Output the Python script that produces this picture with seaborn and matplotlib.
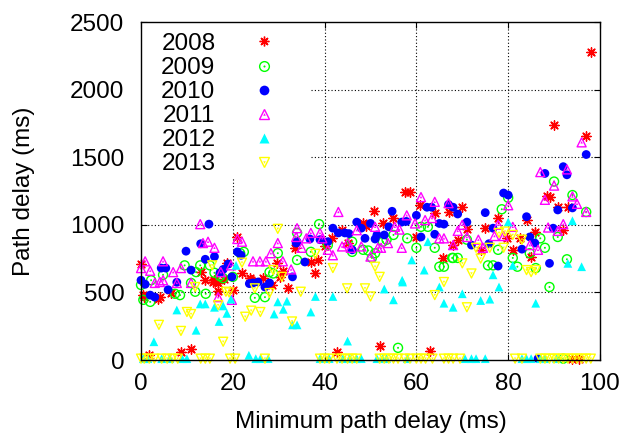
import numpy as np
import pandas as pd
import seaborn as sns
import matplotlib
matplotlib.use("Agg")
import matplotlib.pyplot as plt
from matplotlib.lines import Line2D
from matplotlib.legend_handler import HandlerTuple
from matplotlib.patches import Rectangle

# ---------------- data ----------------
years = ["2008", "2009", "2010", "2011", "2012", "2013"]

x2008 = [0, 0.5, 0.7, 1.7, 3.7, 4.1, 6.5, 8.7, 10.9, 13, 14, 15.7, 16, 16.8, 16.8, 18, 18.8, 20, 21, 22,
         23.7, 24, 26.6, 28.5, 29.6, 30.3, 31, 32, 33.5, 37, 38, 38.6, 40, 41.6, 42.7, 43.8, 45, 48.4, 49,
         50.8, 52, 52.7, 55, 57.5, 58.5, 60, 60.8, 63, 64, 65.8, 67, 68, 69, 70, 71, 74, 75, 77.8, 79.7, 81,
         82.6, 84, 85, 85.8, 88.4, 89.2, 90, 90.8, 92, 93, 94, 95.5, 97, 98]
y2008 = [710, 480, 465, 37, 450, 465, 495, 60, 85, 650, 590, 577, 590, 510, 570, 600, 720, 520, 910, 645,
         605, 590, 605, 555, 720, 615, 660, 530, 830, 725, 645, 740, 840, 900, 62, 960, 865, 1010, 990,
         1100, 100, 1010, 1050, 1240, 1240, 910, 1150, 67, 1085, 755, 1095, 850, 890, 1130, 970, 815, 975,
         1050, 900, 815, 900, 1035, 765, 950, 1210, 1205, 1740, 1135, 960, 1130, 10, 10, 1660, 2280]

x2009 = [0, 0.5, 2, 2.2, 4.8, 7.4, 8.5, 9.5, 10.9, 11.8, 12, 12.9, 14.1, 15, 16, 17.2, 17.9, 20, 21.6, 22.4,
         24.8, 27, 28, 28.8, 29.8, 34, 34, 37, 38.8, 40.7, 46, 46, 48.4, 49.5, 50.3, 51, 52.7, 53.5, 55, 56,
         58, 60, 61, 62.5, 64, 65, 66, 67.8, 68, 69, 71, 75.6, 76.7, 77.8, 78.6, 80, 81, 82, 84.7, 86, 87,
         88, 89, 90, 90.8, 92, 92.8, 94, 97]
y2009 = [555, 445, 430, 590, 630, 490, 480, 700, 570, 505, 650, 700, 490, 700, 645, 620, 605, 615, 790, 800,
         460, 465, 650, 640, 790, 940, 740, 800, 1005, 850, 875, 800, 815, 810, 755, 790, 875, 890, 925, 90,
         900, 830, 985, 985, 830, 690, 690, 755, 755, 755, 890, 700, 700, 815, 1115, 1200, 755, 690, 790,
         680, 900, 830, 540, 1320, 910, 10, 745, 1220, 1095]

x2010 = [0, 0.9, 2, 3, 4.4, 5.4, 5.9, 7.8, 9.8, 10.9, 13, 14, 14.8, 16, 17.2, 17.9, 19, 19.8, 21, 21.8,
         23.6, 24.4, 25.5, 27, 28, 33, 33.8, 34, 35.7, 36.8, 39, 40.7, 41.8, 43, 44.4, 45.3, 46, 47, 48,
         48.8, 50, 51, 51.4, 53, 54, 54.7, 56.8, 57.8, 60, 61, 62.3, 63.3, 64, 65, 66, 67, 68, 69, 71, 72,
         75, 75.8, 76.7, 77.8, 79, 80, 83, 84, 84.7, 85.8, 86.5, 88, 89, 89.8, 90.8, 92, 92.8, 94, 97]
y2010 = [590, 560, 480, 465, 680, 680, 520, 575, 805, 665, 860, 745, 1005, 765, 645, 670, 710, 615, 800, 775,
         565, 570, 577, 540, 570, 615, 865, 875, 725, 895, 890, 875, 975, 940, 940, 935, 815, 1020, 975,
         900, 1010, 895, 925, 925, 985, 1100, 1020, 1025, 1070, 910, 1130, 1130, 930, 1010, 1005, 1150,
         1130, 1080, 1020, 850, 1090, 860, 975, 695, 1235, 1220, 820, 1060, 910, 865, 10, 1380, 715, 975,
         1110, 1430, 1370, 1125, 1520]

x2011 = [0, 0.9, 2, 3, 4.1, 4.8, 4.8, 7, 7.8, 8.7, 10.9, 12.9, 13.5, 14.6, 16, 16.8, 17.4, 19.6, 19.8, 21,
         22, 24.4, 25.9, 27.2, 28.3, 29.8, 30.9, 32.7, 33.8, 34, 35, 36, 37, 39, 39.5, 40.7, 41.8, 43, 43.8,
         45, 45.7, 47, 48, 50, 51, 51.6, 52.3, 53.8, 55.3, 56.3, 56.8, 57.9, 59.7, 61, 61.9, 63.4, 64, 65,
         66, 67, 68, 69, 70, 71, 73.5, 74.5, 77, 77.8, 79, 80, 81, 84.7, 86.5, 87, 88, 88.7, 90, 90.8, 92,
         92.8, 94, 95, 96, 97]
y2011 = [680, 730, 660, 570, 577, 730, 590, 650, 570, 680, 570, 1005, 865, 875, 830, 465, 650, 700, 445, 895,
         875, 730, 730, 730, 790, 865, 730, 670, 910, 975, 830, 900, 940, 940, 900, 815, 775, 1095, 840,
         865, 830, 960, 840, 765, 985, 830, 830, 865, 985, 965, 830, 1070, 1010, 1205, 1035, 1050, 1170,
         900, 900, 1160, 850, 955, 1000, 910, 890, 830, 917, 1000, 917, 1145, 985, 850, 815, 1390, 1185,
         980, 1290, 955, 1005, 1410, 1210, 1155, 1610, 1095]

x2012 = [0.5, 1.5, 2.8, 4.5, 6.3, 7.8, 9, 10, 12, 12.9, 14, 16, 17, 17.9, 18.7, 19.6, 20.7, 23.5, 25, 26,
         27.7, 29, 29.8, 31, 31.8, 33, 34, 37, 38, 39, 41, 41.8, 44, 45, 45.5, 47, 48, 51.4, 52.6, 53, 53.5,
         55, 56.9, 57, 58, 59, 61.7, 62.5, 65, 66, 68, 70, 70.6, 72, 73, 74, 75, 76, 76.7, 78, 80, 81, 83,
         84, 85, 86, 87, 88, 90.5, 93, 94, 96]
y2012 = [10, 10, 135, 10, 10, 370, 10, 10, 220, 415, 415, 390, 285, 400, 345, 450, 700, 35, 10, 10,
         10, 340, 430, 375, 435, 260, 260, 355, 470, 10, 10, 470, 10, 140, 10, 10, 10, 10, 10, 525, 10,
         445, 590, 577, 10, 740, 665, 875, 540, 420, 390, 490, 10, 10, 10, 440, 10, 450, 630, 540, 1020,
         700, 10, 10, 10, 420, 10, 10, 10, 715, 1030, 690]

x2013 = [0, 0.7, 1.8, 2.9, 3.9, 4.5, 5.7, 6.8, 8, 8.7, 10, 10.9, 11.8, 13, 14, 15, 15.5, 16.8, 17.9, 18.5,
         19.2, 19.4, 20.5, 22, 22.7, 24, 24.8, 26, 27, 28, 28.8, 29.8, 30.7, 32.9, 34.8, 38, 39, 40, 41,
         41.8, 42.7, 43.8, 44.9, 45, 46, 47, 48.8, 50, 51, 52, 52, 53, 54, 55, 56, 57.5, 58.6, 60, 61, 62,
         63.5, 64, 66, 66, 67, 68, 69.5, 70, 71, 72, 73, 74, 76, 78, 79, 79.3, 81, 81.5, 83, 83, 84, 85,
         86, 87, 88, 89, 90, 91, 92, 93, 94, 95, 96, 97, 98]
y2013 = [10, 10, 10, 10, 260, 10, 10, 10, 10, 215, 355, 340, 540, 10, 10, 10, 700, 405, 135, 505,
         500, 10, 10, 720, 320, 365, 530, 355, 10, 495, 665, 970, 615, 285, 505, 785, 10, 10, 10,
         680, 10, 10, 530, 10, 10, 10, 530, 470, 690, 615, 10, 10, 10, 10, 10, 10, 10, 10, 10, 10,
         10, 480, 577, 10, 10, 10, 10, 715, 390, 640, 830, 750, 830, 940, 830, 950, 925, 10, 890, 10,
         665, 650, 665, 10, 10, 10, 10, 10, 10, 10, 10, 10, 10, 10, 10]

xticks = [0, 20, 40, 60, 80, 100]
yticks = [0, 500, 1000, 1500, 2000, 2500]

RED, GREEN, BLUE, MAG, CYAN, YEL = "#ff0000", "#00ff00", "#0000ff", "#ff00ff", "#00ffff", "#ffff00"

# ---------------- style ----------------
sns.set_theme(style="ticks")
plt.rcParams["font.family"] = ["Liberation Sans", "DejaVu Sans"]
plt.rcParams["text.color"] = "black"
plt.rcParams["axes.labelcolor"] = "black"
plt.rcParams["xtick.color"] = "black"
plt.rcParams["ytick.color"] = "black"
FS = 17.5

fig = plt.figure(figsize=(6.24, 4.36), dpi=100)
ax = fig.add_axes([0.226, 0.1743, 0.7355, 0.7752])

ax.set_xlim(0, 100)
ax.set_ylim(0, 2500)
ax.set_xticks(xticks)
ax.set_yticks(yticks)

# dotted grid (drawn under a white key box)
for t in xticks[1:-1]:
    ax.axvline(t, color="black", lw=0.8, ls=(0, (1, 2)), zorder=0.5)
for t in yticks[1:-1]:
    ax.axhline(t, color="black", lw=0.8, ls=(0, (1, 2)), zorder=0.5)
ax.add_patch(Rectangle((0, 0.538), 0.37, 0.462, transform=ax.transAxes,
                       facecolor="white", edgecolor="none", zorder=0.8))

common = dict(ax=ax, legend=False, clip_on=False)

# 2008 red asterisk
sns.scatterplot(x=x2008, y=y2008, marker=(8, 2, 0), color=RED, s=45, linewidth=1.0, zorder=3, **common)
# 2009 green circle with dot
sns.scatterplot(x=x2009, y=y2009, marker="o", color=GREEN, facecolor="none", edgecolor=GREEN,
                s=42, linewidth=1.0, zorder=3, **common)
sns.scatterplot(x=x2009, y=y2009, marker="o", color=GREEN, edgecolor="none", s=2, zorder=3, **common)
# 2010 blue filled circle
sns.scatterplot(x=x2010, y=y2010, marker="o", color=BLUE, edgecolor="none", s=40, zorder=3, **common)
# 2011 magenta open triangle
sns.scatterplot(x=x2011, y=y2011, marker="^", color=MAG, facecolor="none", edgecolor=MAG,
                s=42, linewidth=1.0, zorder=3, **common)
sns.scatterplot(x=x2011, y=y2011, marker="^", color=MAG, edgecolor="none", s=3, zorder=3, **common)
# 2012 cyan filled triangle
sns.scatterplot(x=x2012, y=y2012, marker="^", color=CYAN, edgecolor="none", s=40, zorder=3, **common)
# 2013 yellow open down triangle
sns.scatterplot(x=x2013, y=y2013, marker="v", color=YEL, facecolor="none", edgecolor=YEL,
                s=42, linewidth=1.0, zorder=3, **common)
sns.scatterplot(x=x2013, y=y2013, marker="v", color=YEL, edgecolor="none", s=3, zorder=3, **common)

# axes decoration
for sp in ax.spines.values():
    sp.set_color("black")
    sp.set_linewidth(1.0)
    sp.set_zorder(4)
ax.tick_params(direction="in", length=4.5, width=0.8, top=True, right=True,
               labelsize=FS, colors="black")
ax.tick_params(axis="y", pad=12)
ax.tick_params(axis="x", pad=9)

ax.set_xlabel("Minimum path delay (ms)", fontsize=FS, color="black")
ax.set_ylabel("Path delay (ms)", fontsize=FS, color="black")
ax.xaxis.set_label_coords(0.5, -0.152)
ax.yaxis.set_label_coords(-0.232, 0.5)

# legend (key) - labels left, symbols right
ms = 7
handles = [
    Line2D([], [], ls="none", marker=(8, 2, 0), color=RED, ms=ms, mew=1.0),
    (Line2D([], [], ls="none", marker="o", mfc="none", mec=GREEN, ms=ms, mew=1.0),
     Line2D([], [], ls="none", marker="o", mfc=GREEN, mec="none", ms=1.5)),
    Line2D([], [], ls="none", marker="o", mfc=BLUE, mec="none", ms=ms),
    (Line2D([], [], ls="none", marker="^", mfc="none", mec=MAG, ms=ms, mew=1.0),
     Line2D([], [], ls="none", marker="^", mfc=MAG, mec="none", ms=1.8)),
    Line2D([], [], ls="none", marker="^", mfc=CYAN, mec="none", ms=ms),
    (Line2D([], [], ls="none", marker="v", mfc="none", mec=YEL, ms=ms, mew=1.0),
     Line2D([], [], ls="none", marker="v", mfc=YEL, mec="none", ms=1.8)),
]
leg = ax.legend(handles, years, loc="upper left", markerfirst=False, frameon=False,
                fontsize=FS, handler_map={tuple: HandlerTuple(ndivide=1, pad=0)},
                handlelength=2.0, handletextpad=1.0, labelspacing=0.086,
                borderaxespad=0.0, borderpad=0.45, bbox_to_anchor=(0.02, 1.0))
for t in leg.get_texts():
    t.set_color("black")
leg.set_zorder(5)

fig.savefig("out.png", dpi=100)
